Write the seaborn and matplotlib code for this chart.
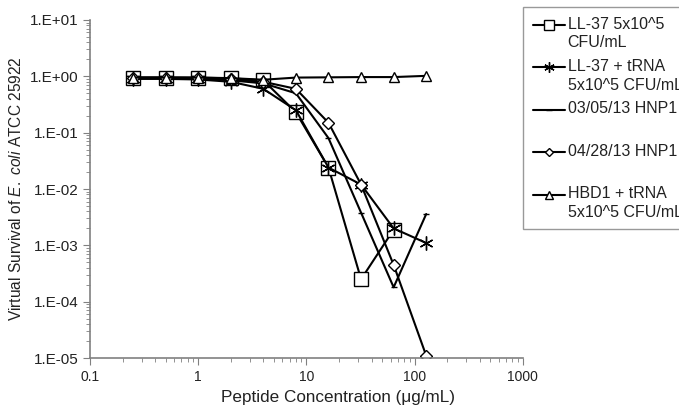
import numpy as np
import pandas as pd
import matplotlib
matplotlib.use("Agg")
import matplotlib.pyplot as plt
import matplotlib.ticker as mticker
from matplotlib.legend_handler import HandlerLine2D
import seaborn as sns

# peptide concentrations (ug/mL)
conc = [0.25, 0.5, 1, 2, 4, 8, 16, 32, 64, 128]

ll37 = [0.95, 0.95, 0.95, 0.92, 0.85, 0.23, 0.024, 0.00025, 0.0019]
ll37_trna = [0.9, 0.9, 0.88, 0.8, 0.6, 0.25, 0.024, 0.012, 0.002, 0.0011]
hnp1_0305 = [0.92, 0.93, 0.92, 0.85, 0.75, 0.5, 0.08, 0.0038, 0.00018, 0.0036]
hnp1_0428 = [0.95, 0.95, 0.93, 0.88, 0.8, 0.6, 0.15, 0.012, 0.00045, 0.000011]
hbd1_trna = [0.95, 0.95, 0.95, 0.93, 0.87, 0.95, 0.96, 0.97, 0.97, 1.02]

labels = ["LL-37 5x10^5\nCFU/mL", "LL-37 + tRNA\n5x10^5 CFU/mL",
          "03/05/13 HNP1\n ", "04/28/13 HNP1\n ", "HBD1 + tRNA\n5x10^5 CFU/mL"]


class FirstLineHandler(HandlerLine2D):
    # put the legend sample next to the first line of a two-line label
    def __init__(self, shift, **kw):
        super().__init__(**kw)
        self.shift = shift

    def create_artists(self, legend, orig_handle, xdescent, ydescent,
                       width, height, fontsize, trans):
        arts = super().create_artists(legend, orig_handle, xdescent, ydescent,
                                      width, height, fontsize, trans)
        for a in arts:
            a.set_ydata(np.asarray(a.get_ydata(), dtype=float) + self.shift)
        return arts


sns.set_style("white")
plt.rcParams["font.family"] = ["Liberation Sans", "DejaVu Sans"]
plt.rcParams["mathtext.fontset"] = "custom"
plt.rcParams["mathtext.rm"] = "Liberation Sans"
plt.rcParams["mathtext.it"] = "Liberation Sans:italic"

fig = plt.figure(figsize=(6.79, 4.08), dpi=100)
ax = fig.add_axes([0.1325, 0.1225, 0.6375, 0.8285])

series = [
    (ll37, labels[0], "s", 10),
    (ll37_trna, labels[1], (6, 2, 0), 10),
    (hnp1_0305, labels[2], "_", 5),
    (hnp1_0428, labels[3], "D", 6),
    (hbd1_trna, labels[4], "^", 7),
]
for vals, lab, mk, ms in series:
    sns.lineplot(x=conc[:len(vals)], y=vals, ax=ax, color="black", lw=1.5,
                 marker=mk, markersize=ms, markerfacecolor="white",
                 markeredgecolor="black", markeredgewidth=1.0, label=lab)

ax.set_xscale("log")
ax.set_yscale("log")
ax.set_xlim(0.1, 1000)
ax.set_ylim(1e-5, 10)

ax.xaxis.set_major_formatter(mticker.FuncFormatter(lambda v, p: f"{v:g}"))
ax.yaxis.set_major_locator(mticker.LogLocator(base=10, numticks=10))
ax.yaxis.set_minor_locator(mticker.LogLocator(base=10, subs=np.arange(2, 10), numticks=20))
ax.yaxis.set_major_formatter(mticker.FuncFormatter(
    lambda v, p: f"1.E{int(round(np.log10(v))):+03d}"))
ax.xaxis.set_minor_locator(mticker.LogLocator(base=10, subs=np.arange(2, 10), numticks=20))

for side in ["top", "right"]:
    ax.spines[side].set_visible(False)
for side in ["left", "bottom"]:
    ax.spines[side].set_color("#808080")
    ax.spines[side].set_linewidth(1.2)
ax.tick_params(which="major", direction="out", length=5, color="#808080",
               labelsize=11, labelcolor="#222222", left=True, bottom=True)
ax.tick_params(which="minor", direction="out", length=3, color="#808080",
               left=True, bottom=True)
ax.tick_params(axis="x", labelsize=10)

ax.set_xlabel("Peptide Concentration (\u03bcg/mL)", fontsize=12.3, color="#222222")
ax.xaxis.set_label_coords(0.573, -0.095)
ax.set_ylabel(r"Virtual Survival of $\it{E.\ coli}$ ATCC 25922", fontsize=11.2,
              color="#222222")

handles, labs = ax.get_legend_handles_labels()
hmap = {h: FirstLineHandler(6.3) for h in handles}
leg = ax.legend(handles, labs, handler_map=hmap, loc="upper left",
                bbox_to_anchor=(523 / 679, 1 - 7 / 408),
                bbox_transform=fig.transFigure, borderaxespad=0,
                frameon=True, fancybox=False, fontsize=11.5, handlelength=2.0,
                labelspacing=0.55, borderpad=0.6, handletextpad=0.2,
                markerscale=0.75)
for t in leg.get_texts():
    t.set_linespacing(1.3)
    t.set_color("#222222")
leg.get_frame().set_edgecolor("#808080")
leg.get_frame().set_linewidth(1.0)

fig.savefig("out.png", dpi=100)
